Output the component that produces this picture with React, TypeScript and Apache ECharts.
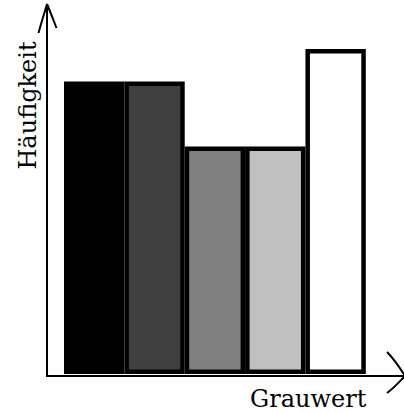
import React, { useEffect, useRef } from "react";
import * as echarts from "echarts";

const categories = ["0", "1", "2", "3", "4"];
const values = [9, 9, 7, 7, 10];
const fills = ["#000000", "#404040", "#808080", "#c0c0c0", "#ffffff"];
const xLabel = "Grauwert";
const yLabel = "Häufigkeit";

export default function App() {
  const ref = useRef<HTMLDivElement>(null);
  useEffect(() => {
    document.body.style.margin = "0";
    const chart = echarts.init(ref.current!, null, { renderer: "svg" });
    const font = '24px "DejaVu Serif"';
    const stroke = { stroke: "#000", lineWidth: 2, fill: "none" };
    chart.setOption({
      animation: false,
      backgroundColor: "#ffffff",
      grid: { left: 64, right: 38.2, top: 49, bottom: 38 },
      xAxis: { type: "category", data: categories, show: false },
      yAxis: { type: "value", min: 0, max: 10, show: false },
      series: [
        {
          type: "bar",
          barCategoryGap: "0%",
          data: values.map((v, i) => ({
            value: v,
            itemStyle: { color: fills[i] },
          })),
          itemStyle: { borderColor: "#000", borderWidth: 4.5 },
        },
      ],
      graphic: [
        { type: "line", shape: { x1: 47, y1: 377, x2: 47, y2: 4 }, style: stroke, z: 10 },
        { type: "line", shape: { x1: 46, y1: 376, x2: 404, y2: 376 }, style: stroke, z: 10 },
        { type: "bezierCurve", shape: { x1: 38.5, y1: 33, cpx1: 42, cpy1: 20, cpx2: 45, cpy2: 11, x2: 47, y2: 4 }, style: stroke, z: 10 },
        { type: "bezierCurve", shape: { x1: 56.5, y1: 28, cpx1: 53, cpy1: 19, cpx2: 50, cpy2: 11, x2: 47, y2: 4 }, style: stroke, z: 10 },
        { type: "bezierCurve", shape: { x1: 387, y1: 352, cpx1: 395, cpy1: 360, cpx2: 400, cpy2: 368, x2: 405, y2: 376 }, style: stroke, z: 10 },
        { type: "bezierCurve", shape: { x1: 387, y1: 393, cpx1: 394, cpy1: 388, cpx2: 400, cpy2: 381, x2: 405, y2: 376 }, style: stroke, z: 10 },
        {
          type: "text",
          x: 250,
          y: 399,
          style: { text: xLabel, font, fill: "#000", textAlign: "left", textVerticalAlign: "middle" },
          z: 10,
        },
        {
          type: "text",
          x: 28,
          y: 105.5,
          rotation: Math.PI / 2,
          style: { text: yLabel, font, fill: "#000", textAlign: "center", textVerticalAlign: "middle" },
          z: 10,
        },
      ],
    });
    return () => chart.dispose();
  }, []);
  return <div ref={ref} style={{ width: 404, height: 412 }} />;
}
